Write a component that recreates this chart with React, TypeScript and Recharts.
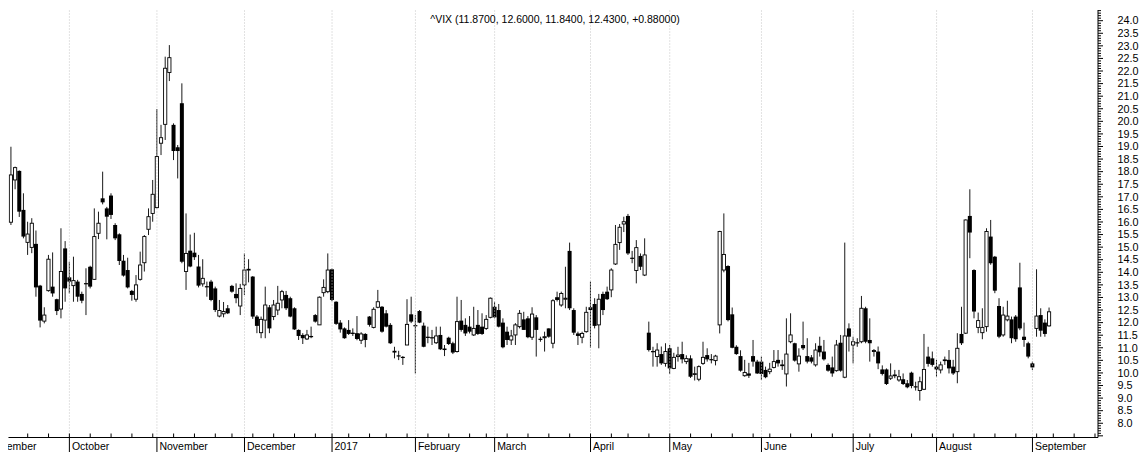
import React from 'react';
import { ComposedChart, Bar, XAxis, YAxis, ReferenceLine } from 'recharts';

// ^VIX daily candles, 2016-09-13 .. 2017-09-08 (index = trading day)
const openV = [
  15.99, 17.67, 18.03, 16.48, 15.19, 14.99, 15.13, 13.47, 12.06, 13.27,
  13.43, 12.93, 12.54, 14.95, 13.80, 13.47, 13.63, 13.14, 13.57, 14.22,
  13.72, 15.55, 16.94, 16.54, 17.05, 15.88, 15.51, 14.46, 14.09, 13.26,
  12.93, 13.72, 14.38, 15.71, 16.34, 16.57, 19.13, 19.88, 21.94, 19.86,
  18.97, 20.72, 14.03, 14.86, 14.78, 14.23, 13.54, 13.45, 13.63, 13.36,
  12.26, 12.35, 12.57, 13.46, 13.14, 12.66, 13.50, 14.10, 13.83, 12.24,
  11.60, 12.10, 12.61, 12.24, 12.50, 12.90, 13.10, 12.97, 12.57, 11.71,
  11.51, 11.35, 11.47, 12.30, 11.91, 13.19, 13.23, 14.12, 12.83, 12.00,
  11.77, 11.71, 11.60, 11.58, 11.30, 11.55, 12.24, 11.81, 12.61, 12.63,
  12.37, 11.91, 10.88, 10.70, 10.64, 11.11, 12.33, 11.90, 12.46, 11.88,
  11.44, 11.42, 11.20, 11.51, 10.97, 11.40, 11.18, 10.85, 12.08, 11.91,
  11.84, 11.51, 11.91, 11.84, 11.77, 12.21, 12.63, 12.50, 12.00, 11.64,
  11.31, 11.51, 11.84, 12.13, 12.17, 11.42, 12.21, 11.36, 11.40, 11.77,
  11.18, 13.01, 12.70, 12.93, 14.85, 12.50, 11.57, 11.42, 11.64, 12.61,
  12.74, 11.91, 13.14, 13.23, 13.30, 14.33, 15.18, 15.92, 16.24, 14.58,
  14.07, 14.65, 13.89, 11.60, 10.87, 10.65, 10.75, 10.38, 10.98, 10.18,
  10.65, 10.75, 10.45, 10.58, 9.95, 9.75, 10.38, 10.71, 10.55, 10.49,
  11.91, 14.09, 14.25, 12.33, 11.04, 10.67, 9.89, 9.98, 10.67, 10.45,
  10.45, 10.12, 10.05, 10.22, 10.52, 10.30, 9.96, 11.24, 11.18, 10.36,
  11.11, 10.67, 10.62, 10.32, 11.08, 10.85, 10.32, 10.22, 10.09, 11.20,
  9.83, 11.77, 11.11, 11.22, 11.24, 12.57, 11.31, 10.85, 10.85, 10.14,
  10.14, 9.79, 9.90, 9.72, 9.75, 9.59, 10.01, 9.47, 9.30, 9.35,
  10.65, 10.58, 10.25, 10.12, 10.50, 10.52, 10.25, 10.05, 11.55, 11.58,
  16.24, 14.09, 11.81, 11.60, 11.84, 15.42, 14.62, 12.66, 11.51, 12.11,
  12.13, 12.24, 13.40, 11.44, 11.18, 10.38, 11.77, 12.30, 12.00, 11.87,
];
const highV = [
  18.99, 18.20, 18.05, 17.14, 16.01, 16.15, 15.66, 13.50, 12.61, 14.69,
  14.79, 12.95, 15.75, 15.24, 14.42, 14.62, 13.70, 13.23, 14.16, 14.26,
  16.54, 16.41, 18.00, 16.60, 17.14, 15.95, 15.55, 14.69, 14.58, 13.30,
  13.89, 14.82, 15.48, 16.54, 17.67, 20.49, 19.86, 22.57, 23.03, 19.92,
  19.06, 21.51, 16.34, 15.50, 15.57, 14.69, 14.52, 13.63, 13.70, 13.43,
  12.90, 12.82, 12.70, 13.50, 13.56, 13.54, 14.75, 14.52, 13.85, 12.30,
  12.24, 13.43, 12.70, 12.90, 13.46, 13.30, 13.26, 13.03, 12.61, 11.73,
  11.58, 11.71, 11.84, 12.34, 13.04, 13.72, 14.75, 14.15, 12.85, 12.10,
  11.81, 12.10, 11.77, 12.26, 11.62, 11.58, 12.26, 12.61, 13.30, 12.66,
  12.50, 11.98, 11.04, 10.88, 10.67, 12.93, 13.03, 12.30, 12.50, 12.00,
  11.84, 11.71, 11.84, 11.84, 11.11, 11.44, 11.24, 13.03, 12.90, 12.17,
  12.26, 12.63, 12.50, 12.37, 12.30, 13.00, 12.83, 12.74, 12.17, 11.84,
  11.71, 11.98, 12.50, 12.43, 12.26, 12.61, 12.30, 11.44, 11.64, 11.77,
  12.93, 13.23, 13.23, 14.22, 15.18, 12.57, 11.64, 11.64, 12.63, 13.63,
  12.97, 13.14, 13.23, 13.43, 14.16, 15.88, 15.92, 16.21, 16.32, 14.85,
  15.28, 14.75, 15.35, 12.04, 11.04, 11.18, 11.05, 11.18, 11.11, 10.80,
  11.04, 11.24, 10.70, 10.70, 10.25, 10.30, 11.24, 10.98, 10.75, 10.72,
  15.65, 16.34, 14.28, 12.60, 11.10, 10.90, 10.52, 10.40, 11.31, 10.52,
  10.65, 10.25, 10.40, 10.91, 10.91, 10.52, 12.17, 12.37, 11.20, 10.98,
  12.04, 11.38, 10.71, 11.18, 11.44, 11.31, 10.38, 10.65, 11.31, 11.51,
  15.18, 11.97, 11.44, 11.38, 13.06, 12.63, 12.17, 10.95, 11.05, 10.30,
  10.18, 10.38, 10.12, 10.12, 9.98, 9.72, 10.05, 9.65, 9.85, 11.55,
  11.04, 10.85, 10.52, 10.45, 10.65, 10.91, 10.52, 11.58, 12.63, 16.10,
  17.30, 14.12, 12.40, 12.57, 15.75, 16.08, 14.65, 12.97, 12.63, 12.87,
  12.24, 12.30, 14.38, 12.00, 11.24, 10.45, 14.12, 12.57, 12.13, 12.60,
];
const lowV = [
  15.88, 17.30, 16.20, 15.35, 14.69, 14.76, 13.03, 11.81, 11.97, 13.23,
  13.03, 12.30, 12.17, 12.83, 13.16, 12.83, 12.83, 12.77, 12.30, 13.36,
  13.70, 15.32, 16.70, 15.31, 16.12, 15.28, 14.29, 13.83, 13.36, 12.87,
  12.83, 13.67, 14.03, 15.48, 16.01, 16.54, 18.66, 19.26, 21.60, 18.46,
  17.73, 14.36, 13.30, 14.20, 14.49, 13.40, 13.43, 13.03, 12.85, 12.42,
  12.21, 12.21, 12.34, 13.19, 12.77, 12.30, 13.10, 13.60, 12.15, 11.58,
  11.38, 11.38, 11.58, 12.10, 12.30, 12.57, 12.50, 12.21, 11.71, 11.31,
  11.15, 11.31, 11.38, 12.00, 11.91, 13.03, 13.17, 12.85, 11.91, 11.60,
  11.36, 11.51, 11.47, 11.30, 11.15, 11.02, 11.84, 11.77, 12.57, 11.60,
  11.81, 11.15, 10.58, 10.51, 10.32, 11.11, 11.98, 9.98, 11.98, 11.02,
  11.18, 11.11, 11.15, 10.91, 10.67, 11.11, 10.75, 10.81, 11.64, 11.47,
  11.57, 11.47, 11.51, 11.51, 11.71, 12.17, 12.17, 11.81, 10.98, 11.11,
  11.11, 11.11, 11.77, 11.71, 11.38, 11.31, 10.65, 11.24, 10.85, 11.40,
  10.98, 12.84, 12.63, 12.57, 12.50, 11.51, 11.11, 11.18, 11.60, 11.00,
  11.77, 10.98, 12.30, 12.90, 13.01, 14.29, 14.89, 15.60, 14.69, 14.36,
  13.56, 14.09, 13.85, 10.85, 10.25, 10.25, 10.32, 10.25, 9.96, 10.15,
  10.45, 10.38, 10.35, 9.80, 9.70, 9.67, 10.32, 10.45, 10.38, 10.30,
  11.57, 14.00, 12.05, 10.98, 10.72, 10.05, 9.85, 9.80, 10.25, 9.96,
  9.72, 9.79, 9.95, 10.18, 10.25, 10.12, 9.46, 11.18, 10.45, 10.05,
  10.91, 10.38, 10.38, 10.25, 10.65, 10.49, 10.05, 9.85, 10.05, 10.05,
  9.79, 10.85, 10.38, 11.04, 11.18, 11.18, 10.45, 10.65, 10.15, 9.90,
  9.52, 9.72, 9.79, 9.65, 9.52, 9.39, 9.39, 9.30, 8.90, 9.32,
  10.25, 10.25, 9.85, 9.98, 10.32, 9.98, 9.92, 9.59, 11.11, 11.55,
  14.56, 12.17, 11.58, 11.34, 11.64, 14.30, 13.17, 11.38, 11.44, 12.05,
  11.18, 11.24, 11.70, 11.04, 10.58, 10.12, 11.44, 11.44, 11.44, 11.84,
];
const closeV = [
  17.87, 18.16, 16.41, 15.42, 15.52, 15.95, 13.40, 12.08, 12.30, 14.52,
  13.16, 12.46, 14.03, 13.36, 13.63, 13.67, 13.03, 12.87, 13.55, 13.43,
  15.42, 15.95, 16.78, 16.21, 16.28, 15.35, 14.45, 13.87, 13.40, 13.10,
  13.50, 14.29, 15.42, 16.21, 17.10, 18.60, 19.35, 22.11, 22.53, 18.82,
  18.82, 14.42, 14.75, 14.23, 14.60, 13.47, 13.76, 13.40, 12.90, 12.50,
  12.48, 12.44, 12.37, 13.23, 12.97, 13.36, 14.09, 14.12, 12.24, 11.87,
  12.13, 12.70, 11.77, 12.70, 12.77, 13.23, 12.57, 12.24, 11.73, 11.47,
  11.38, 11.51, 11.42, 12.04, 13.01, 13.40, 14.09, 12.90, 11.95, 11.73,
  11.38, 11.55, 11.55, 11.35, 11.55, 11.31, 11.91, 12.53, 12.83, 11.64,
  11.84, 11.18, 10.81, 10.67, 10.62, 11.93, 12.04, 11.87, 12.00, 11.04,
  11.39, 11.39, 11.47, 10.94, 10.91, 11.15, 10.81, 12.04, 11.71, 11.57,
  11.64, 11.77, 11.55, 11.55, 12.13, 12.97, 12.21, 11.84, 11.02, 11.31,
  11.47, 11.91, 12.37, 11.71, 11.42, 12.34, 11.71, 11.33, 11.44, 11.44,
  12.87, 12.90, 13.16, 12.97, 12.57, 11.60, 11.47, 11.57, 12.41, 12.50,
  11.87, 12.93, 12.50, 12.93, 14.09, 15.11, 15.79, 16.01, 14.75, 14.55,
  14.98, 14.22, 14.69, 10.91, 10.85, 10.91, 10.38, 10.85, 10.18, 10.62,
  10.71, 10.54, 10.57, 9.85, 9.97, 10.25, 10.62, 10.54, 10.54, 10.67,
  15.62, 14.71, 12.10, 11.00, 10.75, 10.09, 10.02, 9.89, 10.45, 9.98,
  9.96, 9.83, 10.15, 10.45, 10.38, 10.32, 10.75, 11.51, 10.49, 10.67,
  10.98, 10.45, 10.45, 10.91, 10.82, 10.54, 10.09, 9.98, 11.11, 10.09,
  11.47, 11.44, 11.24, 11.18, 12.57, 11.24, 11.18, 10.89, 10.38, 9.96,
  9.56, 9.88, 9.92, 9.85, 9.56, 9.43, 9.48, 9.45, 9.65, 10.14,
  10.36, 10.32, 10.14, 10.32, 10.52, 10.18, 9.98, 10.98, 11.18, 16.08,
  15.58, 12.44, 12.08, 11.81, 15.62, 14.36, 13.27, 11.44, 12.30, 12.26,
  11.38, 11.34, 11.77, 11.31, 10.65, 10.22, 12.26, 11.68, 11.55, 12.43,
];

// first trading day of each month (index) and its label
const monthStarts = [14, 35, 56, 77, 97, 116, 139, 158, 180, 202, 222, 245];
const monthLabels = ['October', 'November', 'December', '2017', 'February', 'March', 'April', 'May', 'June', 'July', 'August', 'September'];
const firstMonthLabel = 'September';
// first trading day of each week (index)
const weekStarts = [4, 9, 14, 19, 24, 29, 34, 39, 44, 49, 53, 58, 63, 68, 73, 77, 81, 86, 90, 95, 100, 105, 110, 114, 119, 124, 129, 134, 139, 144, 148, 153, 158, 163, 168, 173, 178, 182, 187, 192, 197, 202, 206, 211, 216, 221, 226, 231, 236, 241, 246, 250, 255, 260];
const titleText = '^VIX (11.8700, 12.6000, 11.8400, 12.4300, +0.88000)';

const xTicks = [-0.6, ...Array.from(new Set([...weekStarts, ...monthStarts])).sort((a, b) => a - b)];

const yTicks: number[] = [];
for (let k = 75; k <= 244; k++) yTicks.push(k / 10);

const data = openV.map((o, i) => ({ i, open: o, high: highV[i], low: lowV[i], close: closeV[i] }));

const FONT = '"Liberation Sans", Arial, sans-serif';

const Candle = (props: any) => {
  const { x, y, width, height, payload } = props;
  if (x == null || y == null || !payload) return null;
  const { open, close, high, low } = payload;
  const top = Math.min(y, y + height);
  const h = Math.abs(height);
  const k = h / (high - low);
  const py = (v: number) => top + (high - v) * k;
  const cx = x + width / 2;
  const up = close >= open;
  const bTop = py(Math.max(open, close));
  const bBot = py(Math.min(open, close));
  const bw = 3.2;
  return (
    <g>
      <line x1={cx} x2={cx} y1={top} y2={top + h} stroke="#1a1a1a" strokeWidth={1} />
      {up ? (
        <rect x={cx - bw / 2} y={bTop} width={bw} height={Math.max(bBot - bTop, 0.8)} fill="#fff" stroke="#000" strokeWidth={0.9} />
      ) : (
        <rect x={cx - bw / 2 - 0.4} y={bTop} width={bw + 0.8} height={Math.max(bBot - bTop, 1.2)} fill="#000" />
      )}
    </g>
  );
};

const YTick = (props: any) => {
  const { x, y, payload } = props;
  const k = Math.round(payload.value * 10);
  const major = k % 5 === 0;
  const labeled = major && k >= 80 && k <= 240;
  return (
    <g>
      <line x1={x} y1={y} x2={x + (major ? 5 : 3)} y2={y} stroke="#000" strokeWidth={1} />
      {labeled && (
        <text x={x + 19.5} y={y} dy="0.35em" fontSize={10.8} fontFamily={FONT} fill="#000" textAnchor="start">
          {(k / 10).toFixed(1)}
        </text>
      )}
    </g>
  );
};

const XTick = (props: any) => {
  const { x, y, payload } = props;
  const v = payload.value;
  if (v < 0) {
    return (
      <g>
        <clipPath id="leftClip">
          <rect x={8} y={y} width={200} height={20} />
        </clipPath>
        <text x={36.5} y={y + 12.3} textAnchor="end" fontSize={10.5} fontFamily={FONT} fill="#000" clipPath="url(#leftClip)">
          {firstMonthLabel}
        </text>
      </g>
    );
  }
  const mi = monthStarts.indexOf(v);
  const isWeek = weekStarts.indexOf(v) >= 0;
  return (
    <g>
      {isWeek && <line x1={x} y1={y - 4} x2={x} y2={y} stroke="#000" strokeWidth={1} />}
      {mi >= 0 && <line x1={x} y1={y} x2={x} y2={y + 14.5} stroke="#000" strokeWidth={1} />}
      {mi >= 0 && (
        <text x={x + 2.5} y={y + 12.3} fontSize={10.5} fontFamily={FONT} fill="#000" textAnchor="start">
          {monthLabels[mi]}
        </text>
      )}
    </g>
  );
};

export default function App() {
  return (
    <div style={{ position: 'absolute', left: 0, top: 0, width: 1146, height: 454, background: '#fff' }}>
      <ComposedChart width={1146} height={454} data={data} margin={{ top: 10, right: 8, bottom: 0.5, left: 8.47 }}>
        {monthStarts.map((m) => (
          <ReferenceLine key={m} x={m} stroke="#c4c4c4" strokeDasharray="1 2" strokeWidth={1} />
        ))}
        <XAxis
          dataKey="i"
          type="number"
          domain={[-0.61, 260.72]}
          allowDataOverflow
          ticks={xTicks}
          interval={0}
          tick={<XTick />}
          tickLine={false}
          tickSize={0}
          tickMargin={0}
          height={16}
          axisLine={{ stroke: '#000', strokeWidth: 1 }}
        />
        <YAxis
          orientation="right"
          type="number"
          domain={[7.434, 24.425]}
          allowDataOverflow
          ticks={yTicks}
          interval={0}
          tick={<YTick />}
          tickLine={false}
          tickSize={0}
          tickMargin={0}
          width={40}
          axisLine={{ stroke: '#000', strokeWidth: 1 }}
        />
        <Bar
          dataKey={(d: any) => [d.low, d.high]}
          barSize={4}
          shape={<Candle />}
          isAnimationActive={false}
        />
      </ComposedChart>
      <div
        style={{
          position: 'absolute',
          left: 0,
          top: 13,
          width: 1110,
          textAlign: 'center',
          fontFamily: FONT,
          fontSize: 10.5,
          lineHeight: '12px',
          color: '#000',
          whiteSpace: 'nowrap',
        }}
      >
        {titleText}
      </div>
    </div>
  );
}
